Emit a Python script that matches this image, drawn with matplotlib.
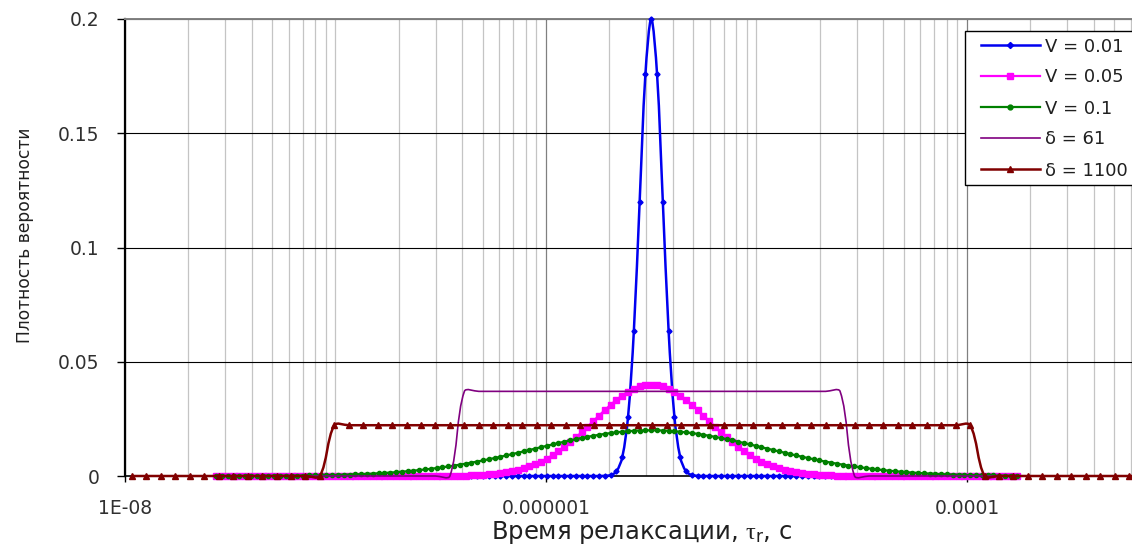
import numpy as np
import matplotlib
matplotlib.use('Agg')
import matplotlib.pyplot as plt
from matplotlib.path import Path
from matplotlib.patches import PathPatch, Rectangle
from matplotlib.lines import Line2D
from matplotlib.ticker import FixedLocator, NullFormatter

plt.rcParams['font.family'] = ['DejaVu Sans']
plt.rcParams['mathtext.fontset'] = 'custom'
plt.rcParams['mathtext.rm'] = 'Liberation Serif'
plt.rcParams['mathtext.it'] = 'Liberation Serif:italic'
plt.rcParams['mathtext.sf'] = 'DejaVu Sans'

# log10 of relaxation time grids, s
lg_v = -5.5 + 0.02755 * np.arange(-75, 64)     # normal distributions (V)
lg_d = -7.9667 + 0.06865 * np.arange(71)       # uniform distributions (delta)

p_v001 = ([0.0] * 67 +
          [0.0001, 0.0004, 0.0020, 0.0082, 0.0259, 0.0633, 0.1200, 0.1760, 0.2000,
           0.1760, 0.1200, 0.0633, 0.0259, 0.0082, 0.0020, 0.0004, 0.0001] +
          [0.0] * 55)

p_v005 = ([0.0] * 35 +
          [0.00001, 0.00002, 0.00002, 0.00004, 0.00005, 0.00008, 0.00011, 0.00015, 0.00021, 0.00029, 0.00040, 0.00054,
           0.00073, 0.00096, 0.00126, 0.00164, 0.00211, 0.00268, 0.00337, 0.00420, 0.00518, 0.00632, 0.00763, 0.00913,
           0.01081, 0.01266, 0.01469, 0.01686, 0.01916, 0.02155, 0.02399, 0.02644, 0.02884, 0.03114, 0.03328, 0.03520,
           0.03686, 0.03820, 0.03919, 0.03980, 0.04000, 0.03980, 0.03919, 0.03820, 0.03686,
           0.03520, 0.03328, 0.03114, 0.02884, 0.02644, 0.02399, 0.02155, 0.01916, 0.01686, 0.01469, 0.01266, 0.01081,
           0.00913, 0.00763, 0.00632, 0.00518, 0.00420, 0.00337, 0.00268, 0.00211, 0.00164, 0.00126, 0.00096, 0.00073,
           0.00054, 0.00040, 0.00029, 0.00021, 0.00015, 0.00011, 0.00008, 0.00005, 0.00004, 0.00002, 0.00002, 0.00001] +
          [0.0] * 23)

p_v01 = [0.00002, 0.00002, 0.00002, 0.00003, 0.00003, 0.00004, 0.00005, 0.00005, 0.00007, 0.00008, 0.00009, 0.00011,
         0.00013, 0.00015, 0.00017, 0.00020, 0.00023, 0.00027, 0.00032, 0.00036, 0.00042, 0.00048, 0.00055, 0.00063,
         0.00072, 0.00082, 0.00093, 0.00105, 0.00119, 0.00134, 0.00150, 0.00168, 0.00188, 0.00210, 0.00233, 0.00259,
         0.00286, 0.00316, 0.00348, 0.00382, 0.00418, 0.00457, 0.00497, 0.00540, 0.00586, 0.00633, 0.00683, 0.00734,
         0.00788, 0.00843, 0.00900, 0.00958, 0.01017, 0.01078, 0.01138, 0.01200, 0.01261, 0.01322, 0.01382, 0.01442,
         0.01500, 0.01557, 0.01612, 0.01664, 0.01713, 0.01760, 0.01803, 0.01843, 0.01879, 0.01910, 0.01937, 0.01960,
         0.01977, 0.01990, 0.01997, 0.02000, 0.01997, 0.01990, 0.01977,
         0.01960, 0.01937, 0.01910, 0.01879, 0.01843, 0.01803, 0.01760, 0.01713, 0.01664, 0.01612, 0.01557, 0.01500,
         0.01442, 0.01382, 0.01322, 0.01261, 0.01200, 0.01138, 0.01078, 0.01017, 0.00958, 0.00900, 0.00843, 0.00788,
         0.00734, 0.00683, 0.00633, 0.00586, 0.00540, 0.00497, 0.00457, 0.00418, 0.00382, 0.00348, 0.00316, 0.00286,
         0.00259, 0.00233, 0.00210, 0.00188, 0.00168, 0.00150, 0.00134, 0.00119, 0.00105, 0.00093, 0.00082, 0.00072,
         0.00063, 0.00055, 0.00048, 0.00042, 0.00036, 0.00032, 0.00027, 0.00023, 0.00020, 0.00017, 0.00015, 0.00013]

p_d61 = [0.0] * 17 + [0.03704] * 27 + [0.0] * 12      # on lg_d[6:62]
p_d1100 = [0.0] * 14 + [0.02222] * 45 + [0.0] * 12    # on lg_d

labels = ['V = 0.01', 'V = 0.05', 'V = 0.1', 'δ = 61', 'δ = 1100']

XMIN, XMAX = 1e-8, 10 ** -3.216
YMAX = 0.2


def smooth_path(lx, y, sx, sy):
    # smoothed line like Excel: Bezier segments, tangents weighted by segment length
    p = np.column_stack([np.asarray(lx) * sx, np.asarray(y) * sy])
    n = len(p)
    d = np.hypot(*np.diff(p, axis=0).T)

    def tangent(i):
        return p[min(i + 1, n - 1)] - p[max(i - 1, 0)]

    verts = [p[0]]
    codes = [Path.MOVETO]
    for i in range(n - 1):
        d_prev = d[i - 1] if i > 0 else 0.0
        d_next = d[i + 1] if i + 1 < n - 1 else 0.0
        c1 = p[i] + tangent(i) * d[i] / (d_prev + d[i]) / 3.0
        c2 = p[i + 1] - tangent(i + 1) * d[i] / (d[i] + d_next) / 3.0
        verts += [c1, c2, p[i + 1]]
        codes += [Path.CURVE4] * 3
    verts = np.array(verts)
    verts[:, 0] = 10 ** (verts[:, 0] / sx)
    verts[:, 1] = verts[:, 1] / sy
    return Path(verts, codes)


series = [
    (lg_v, p_v001, '#0000f0', 'D', 2.6, 1.8),
    (lg_v, p_v005, '#ff00ff', 's', 4.2, 1.6),
    (lg_v, p_v01, '#008000', 'o', 3.0, 1.6),
    (lg_d[6:62], p_d61, '#800080', None, 0, 1.2),
    (lg_d, p_d1100, '#800000', '^', 4.4, 1.8),
]

W, H = 1132, 546
fig = plt.figure(figsize=(W / 100, H / 100), dpi=100)
ax = fig.add_axes([125 / W, 70 / H, 1007 / W, 457 / H])
ax.set_xscale('log')

# pixels per decade and per unit of probability
sx = 1007 / (np.log10(XMAX) - np.log10(XMIN))
sy = 457 / YMAX

handles = []
for z, (lx, y, c, m, ms, lw) in enumerate(series):
    y = np.array(y)
    ax.add_patch(PathPatch(smooth_path(lx, y, sx, sy), fill=False, edgecolor=c, lw=lw,
                           zorder=2.6 + 0.1 * z, clip_on=False, joinstyle='round'))
    if m:
        ax.plot(10 ** lx, y, ls='none', marker=m, ms=ms, color=c, mec=c,
                zorder=2.6 + 0.1 * z, clip_on=False)
    handles.append(Line2D([], [], color=c, lw=lw, marker=m if m else None, ms=ms + 0.5))

ax.set_xlim(XMIN, XMAX)
ax.set_ylim(0, YMAX)

major = [1e-8, 1e-6, 1e-4]
minor = [k * 10.0 ** e for e in range(-8, -3) for k in range(1, 10) if not (k == 1 and e % 2 == 0)]
ax.xaxis.set_major_locator(FixedLocator(major))
ax.xaxis.set_minor_locator(FixedLocator(minor))
ax.xaxis.set_minor_formatter(NullFormatter())
ax.set_xticklabels(['1E-08', '0.000001', '0.0001'])
ax.set_yticks([0, 0.05, 0.1, 0.15, 0.2])
ax.set_yticklabels(['0', '0.05', '0.1', '0.15', '0.2'])

ax.grid(True, which='minor', axis='x', color='#c4c4c4', lw=0.9)
ax.grid(True, which='major', axis='x', color='#808080', lw=0.9)
ax.grid(True, which='major', axis='y', color='black', lw=0.8)
ax.set_axisbelow(True)

ax.tick_params(axis='both', which='major', direction='out', length=5.5, width=1,
               colors='black', labelcolor='#303030', labelsize=13.5)
ax.tick_params(axis='x', which='major', pad=12, length=4.5)
ax.tick_params(axis='y', which='major', pad=13)
ax.tick_params(axis='x', which='minor', length=0)

ax.spines['left'].set_linewidth(1.6)
ax.spines['bottom'].set_linewidth(1.2)
ax.spines['top'].set_color('#808080')
ax.spines['top'].set_linewidth(1.4)
ax.spines['right'].set_visible(False)

# legend frame runs past the right edge of the figure
ax.add_patch(Rectangle((965 / W, 1 - 185 / H), 180 / W, 154 / H, transform=fig.transFigure,
                       facecolor='white', edgecolor='black', lw=1.0, zorder=4.9, clip_on=False))
leg = ax.legend(handles, labels, loc='upper left', bbox_to_anchor=(981 / W, 1 - 37.5 / H),
                bbox_transform=fig.transFigure, borderaxespad=0, borderpad=0,
                labelspacing=0.72, handlelength=3.25, handletextpad=0.3, numpoints=1,
                frameon=False, fontsize=13)
leg.set_zorder(5)
for t in leg.get_texts():
    t.set_color('#202020')

fig.text(642 / W, 1 - 532 / H, 'Время релаксации, $\\mathrm{τ}_{\\mathsf{r}}$, с',
         ha='center', va='center', fontsize=17.5, color='#202020')
fig.text(25.5 / W, 1 - 235 / H, 'Плотность вероятности', rotation=90,
         ha='center', va='center', fontsize=12.3, color='#202020')

fig.savefig('out.png', dpi=100)
